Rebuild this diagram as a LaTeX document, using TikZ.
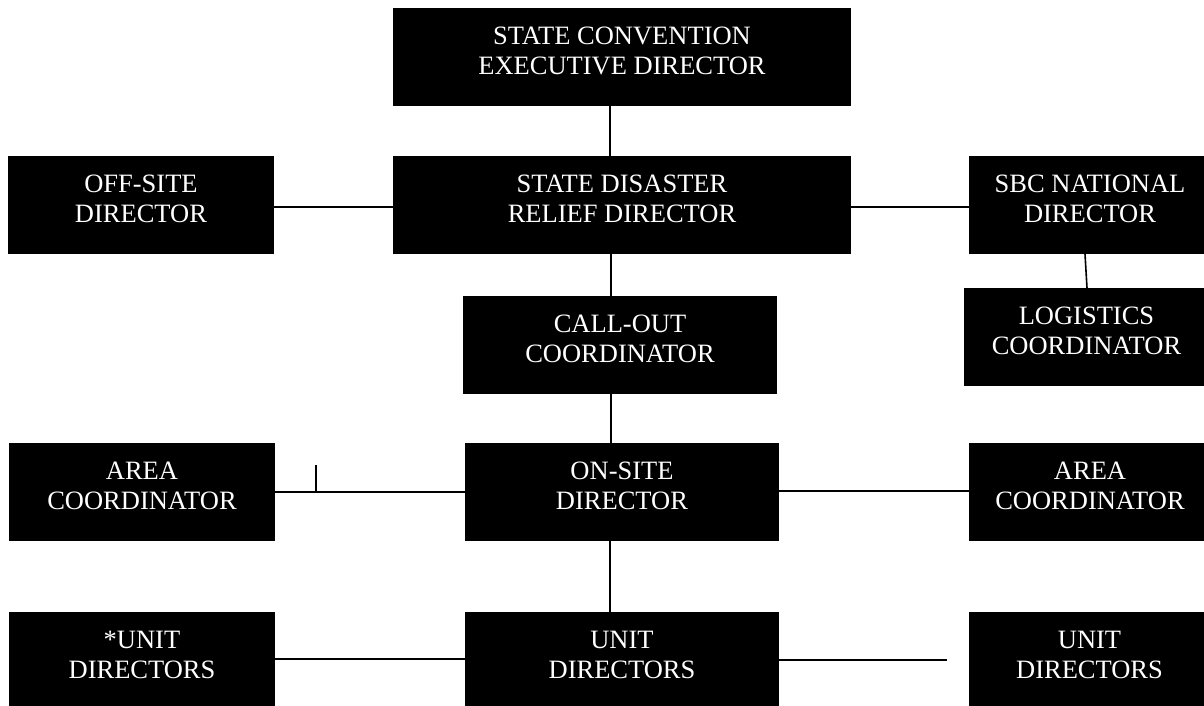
\documentclass[tikz,border=0pt]{standalone}
\usepackage{fontspec}
\setmainfont{Liberation Serif}
\tikzset{
  orgbx/.style={draw=none, fill=black, rectangle, inner sep=0pt, outer sep=0pt, anchor=north west},
  orglbl/.style={text=white, align=center, inner sep=0pt, font=\fontsize{26.5}{30}\selectfont},
  conn/.style={draw=black, line width=1.6pt}
}
\newcommand\orgbox[6]{%
  \node[orgbx, minimum width=#4pt, minimum height=#5pt] (#1) at (#2,#3) {};
  \node[orglbl] (#1-t) at ([yshift=-43.25pt]#1.north) {#6};
}
\begin{document}
\begin{tikzpicture}[x=1pt,y=-1pt]
\useasboundingbox (0,0) rectangle (1204,706);
% boxes: name, x, y, width, height, text
\orgbox{top}{393}{8}{458}{98}{STATE CONVENTION\\EXECUTIVE DIRECTOR}
\orgbox{sdr}{393}{156}{458}{98}{STATE DISASTER\\RELIEF DIRECTOR}
\orgbox{off}{8}{156}{266}{98}{OFF-SITE\\DIRECTOR}
\orgbox{sbc}{969}{156}{242}{98}{SBC NATIONAL\\DIRECTOR}
\orgbox{log}{964}{288}{245}{98}{LOGISTICS\\COORDINATOR}
\orgbox{call}{463}{296}{314}{98}{CALL-OUT\\COORDINATOR}
\orgbox{areaL}{9}{443}{266}{98}{AREA\\COORDINATOR}
\orgbox{on}{465}{443}{314}{98}{ON-SITE\\DIRECTOR}
\orgbox{areaR}{969}{443}{242}{98}{AREA\\COORDINATOR}
\orgbox{unitL}{9}{612}{266}{98}{*UNIT\\DIRECTORS}
\orgbox{unit}{465}{612}{314}{98}{UNIT\\DIRECTORS}
\orgbox{unitR}{969}{612}{241}{98}{UNIT\\DIRECTORS}
% free ends
\coordinate (tickTop) at (316,465);
\coordinate (uend) at (947,660);
% connectors
\draw[conn] ([xshift=-12pt]top.south) -- ([xshift=-12pt]sdr.north);
\draw[conn] ([yshift=-2pt]off.east) -- ([yshift=-2pt]sdr.west);
\draw[conn] ([yshift=-2pt]sdr.east) -- ([yshift=-2pt]sbc.west);
\draw[conn] ([xshift=-5pt]sbc.south) -- ([xshift=0.5pt]log.north);
\draw[conn] ([xshift=-11pt]sdr.south) -- ([xshift=-11pt]sdr.south |- call.north);
\draw[conn] ([xshift=-9pt]call.south) -- ([xshift=-9pt]call.south |- on.north);
\draw[conn] (areaL.east) -- (on.west);
\draw[conn] (tickTop) -- (tickTop |- areaL.east);
\draw[conn] ([yshift=1pt]on.east) -- ([yshift=1pt]areaR.west);
\draw[conn] ([xshift=-12pt]on.south) -- ([xshift=-12pt]unit.north);
\draw[conn] ([yshift=2pt]unitL.east) -- ([yshift=2pt]unit.west);
\draw[conn] (unit.east |- uend) -- (uend);
\end{tikzpicture}
\end{document}
